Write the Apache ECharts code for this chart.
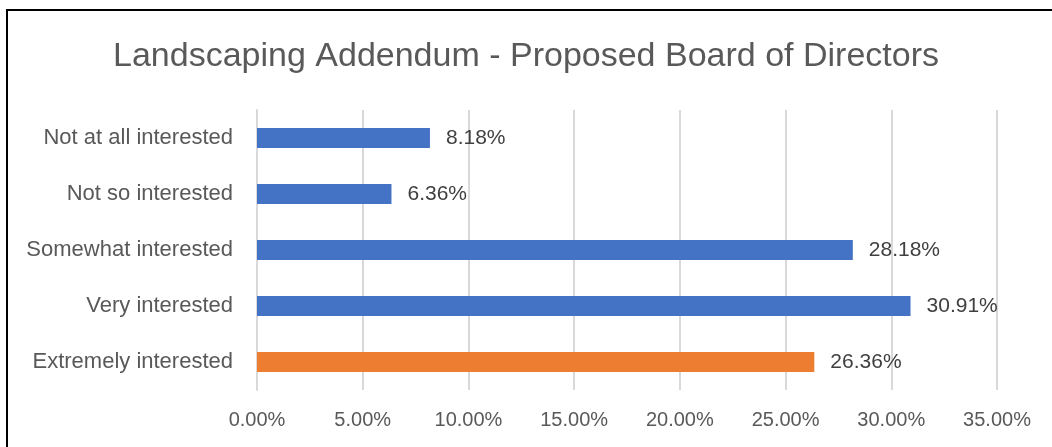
<!DOCTYPE html>
<html>
<head>
    <meta charset="utf-8">
    <script src="https://cdn.jsdelivr.net/npm/echarts@6/dist/echarts.min.js"></script>
    <title>Landscaping Addendum</title>
    <style>
        html, body { margin: 0; padding: 0; background: #fff; }
        /* frame is cropped on the right and bottom in the original */
        #frame {
            position: absolute; left: 6px; top: 9px;
            width: 1046px; height: 438px;
            border-left: 2px solid #000; border-top: 2px solid #000;
        }
        #container { position: absolute; left: 0; top: 0; width: 1052px; height: 447px; }
    </style>
</head>
<body>
<div id="frame"></div>
<div id="container"></div>
<script>
    var categories = ['Extremely interested', 'Very interested', 'Somewhat interested', 'Not so interested', 'Not at all interested'];
    var values = [26.36, 30.91, 28.18, 6.36, 8.18];
    var barColors = ['#ED7D31', '#4472C4', '#4472C4', '#4472C4', '#4472C4'];
    var xTicks = [0, 5, 10, 15, 20, 25, 30, 35];

    var font = 'Liberation Sans, sans-serif';
    var myChart = echarts.init(document.getElementById('container'));

    var option = {
        backgroundColor: 'transparent',
        animation: false,
        title: {
            text: 'Landscaping Addendum - Proposed Board of Directors',
            left: 'center',
            top: 35,
            textStyle: { color: '#595959', fontSize: 34, fontWeight: 'normal', fontFamily: font }
        },
        grid: { left: 257, right: 55, top: 110, bottom: 57 },
        xAxis: {
            type: 'value',
            min: xTicks[0],
            max: xTicks[xTicks.length - 1],
            interval: 5,
            axisLine: { show: false },
            axisTick: { show: false },
            splitLine: { lineStyle: { color: '#d9d9d9', width: 2 } },
            axisLabel: {
                color: '#595959', fontSize: 20, fontFamily: font, margin: 20,
                formatter: function (v) { return v.toFixed(2) + '%'; }
            }
        },
        yAxis: {
            type: 'category',
            data: categories,
            axisLine: { show: true, lineStyle: { color: '#d9d9d9', width: 2 } },
            axisTick: { show: false },
            axisLabel: { color: '#595959', fontSize: 22, fontFamily: font, margin: 24 }
        },
        series: [{
            type: 'bar',
            barWidth: 20,
            data: values.map(function (v, i) {
                return { value: v, itemStyle: { color: barColors[i] } };
            }),
            label: {
                show: true,
                position: 'right',
                distance: 16,
                color: '#404040',
                fontSize: 21,
                fontFamily: font,
                formatter: function (p) { return p.value.toFixed(2) + '%'; }
            }
        }]
    };

    myChart.setOption(option);
</script>
</body>
</html>
